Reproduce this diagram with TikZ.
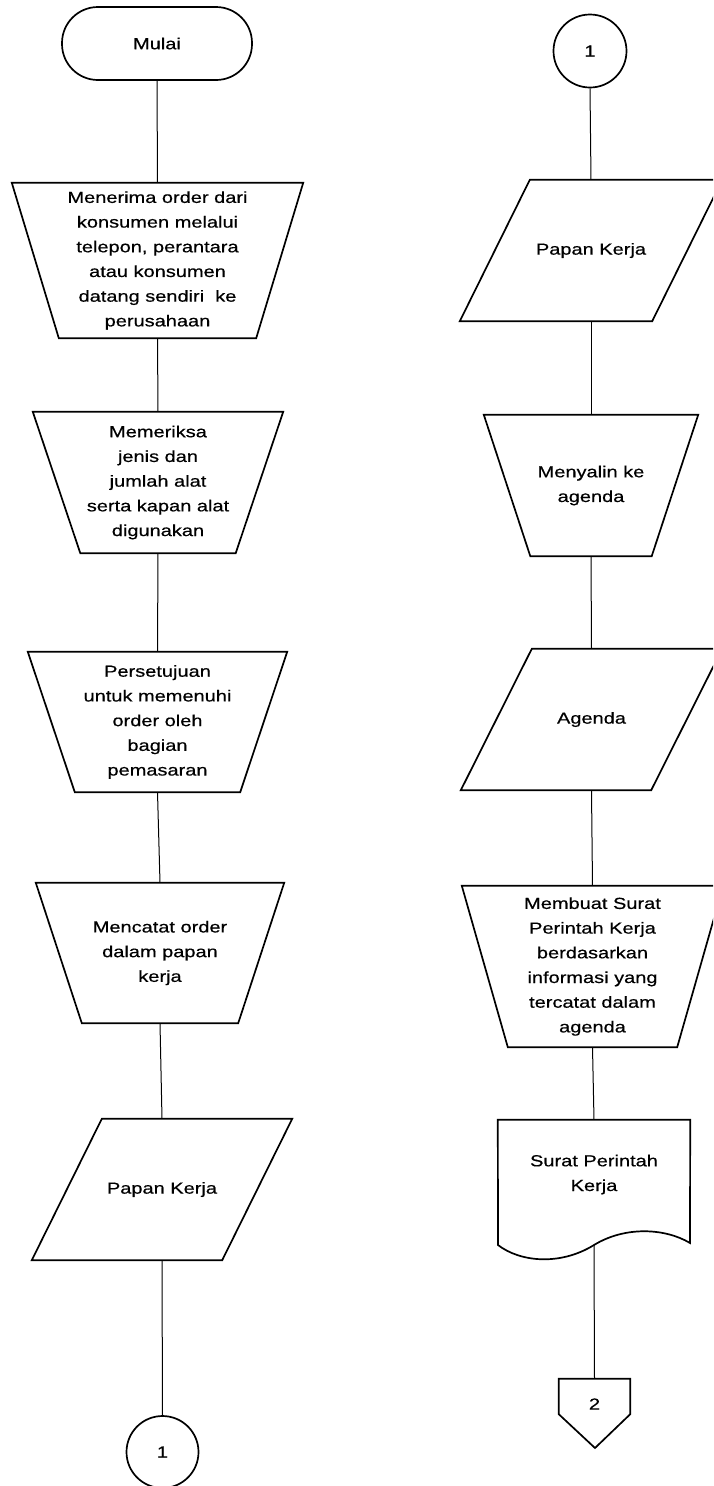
\documentclass[tikz,border=0pt]{standalone}
\usepackage{fontspec}
\setmainfont{Liberation Sans}[FakeStretch=1.25,FakeBold=0.5]
\usetikzlibrary{calc}

% outline of an inverted trapezium (manual operation) around node #1, bottom inset #2
\newcommand{\flowtrap}[2]{%
  \draw[outline] (#1.north west) -- (#1.north east)
    -- ([xshift=-#2]#1.south east) -- ([xshift=#2]#1.south west) -- cycle;}
% outline of a parallelogram (data) around node #1, top-left inset #2
\newcommand{\flowdata}[2]{%
  \draw[outline] ([xshift=#2]#1.north west) -- (#1.north east)
    -- ([xshift=-#2]#1.south east) -- (#1.south west) -- cycle;}

\begin{document}
\begin{tikzpicture}[x=1pt,y=-1pt,
  txt/.style={font=\fontsize{16}{24.7}\selectfont, align=center},
  box/.style={txt, draw=none, inner sep=0pt},
  outline/.style={line width=1.7pt, line join=miter},
  term/.style={txt, draw, line width=1.7pt, rounded corners=36pt, inner sep=0pt},
  conn/.style={txt, draw, circle, line width=1.7pt, inner sep=0pt, minimum size=72pt},
  link/.style={line width=1pt}]
\useasboundingbox (0,0) rectangle (713,1486);
\clip (0,0) rectangle (713,1486);

% ---------------- left column ----------------
\node[term, minimum width=190pt, minimum height=73pt] (mulai) at (157,43.5) {Mulai};

\node[box, minimum width=291pt, minimum height=155pt] (t1) at (157.5,260.5)
  {Menerima order dari\\konsumen melalui\\telepon, perantara\\atau konsumen\\datang sendiri\ \ ke\\perusahaan};
\flowtrap{t1}{47pt}

\node[box, minimum width=250pt, minimum height=141pt] (t2) at (158,482.5)
  {Memeriksa\\jenis dan\\jumlah alat\\serta kapan alat\\digunakan};
\flowtrap{t2}{47.5pt}

\node[box, minimum width=259pt, minimum height=140pt] (t3) at (157.5,722)
  {Persetujuan\\untuk memenuhi\\order oleh\\bagian\\pemasaran};
\flowtrap{t3}{47pt}

\node[box, minimum width=248pt, minimum height=140pt] (t4) at (160,953)
  {Mencatat order\\dalam papan\\kerja};
\flowtrap{t4}{46pt}

\node[box, minimum width=260pt, minimum height=141pt] (p1) at (162,1189.5) {Papan Kerja};
\flowdata{p1}{70pt}

\node[conn] (c1) at (162.5,1452) {1};

\draw[link] (mulai.south) -- (t1.north);
\draw[link] (t1.south) -- (t2.north);
\draw[link] (t2.south) -- (t3.north);
\draw[link] (t3.south) -- (t4.north);
\draw[link] (t4.south) -- (p1.north);
\draw[link] (p1.south) -- (c1.north);

% ---------------- right column ----------------
\node[conn, minimum size=73pt] (c2) at (590,51) {1};

\node[box, minimum width=262pt, minimum height=141pt] (p2) at (591,250.5) {Papan Kerja};
\flowdata{p2}{70pt}

\node[box, minimum width=214pt, minimum height=141pt] (t5) at (591,485.5)
  {Menyalin ke\\agenda};
\flowtrap{t5}{46.5pt}

\node[box, minimum width=261pt, minimum height=141pt] (p3) at (591.5,719.5) {Agenda};
\flowdata{p3}{71pt}

\node[box, minimum width=261pt, minimum height=161pt] (t6) at (592.5,966.5)
  {Membuat Surat\\Perintah Kerja\\berdasarkan\\informasi yang\\tercatat dalam\\agenda};
\flowtrap{t6}{46pt}

% document symbol with wavy lower edge
\node[box, minimum width=192pt, minimum height=109pt] (doc) at (594,1174.5)
  {Surat Perintah\\Kerja};
\coordinate (docbot) at (594,1245);
\draw[outline] (498,1245) -- (doc.north west) -- (doc.north east) -- (690,1243)
  .. controls (665,1228) and (625,1226) .. (docbot)
  .. controls (560,1266) and (520,1262) .. (498,1245) -- cycle;

% off-page connector
\node[box, minimum width=71pt, minimum height=35pt] (off) at (594.5,1396.5) {};
\coordinate (offtip) at (595,1448);
\draw[outline] (off.south west) -- (off.north west) -- (off.north east)
  -- (off.south east) -- (offtip) -- cycle;
\node[txt, inner sep=0pt] (offlabel) at (594.5,1404) {2};

\draw[link] (c2.south) -- (p2.north);
\draw[link] (p2.south) -- (t5.north);
\draw[link] (t5.south) -- (p3.north);
\draw[link] (p3.south) -- (t6.north);
\draw[link] (t6.south) -- (doc.north);
\draw[link] (docbot) -- (off.north);
\end{tikzpicture}
\end{document}
